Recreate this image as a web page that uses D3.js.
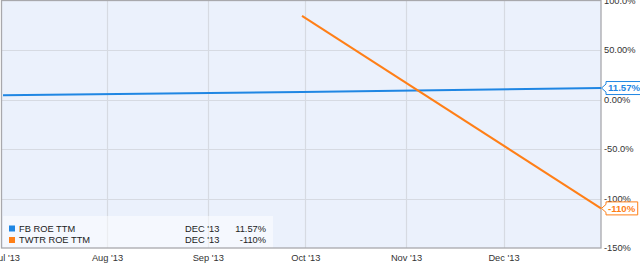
<!DOCTYPE html>
<html><head><meta charset="utf-8">
<script src="https://cdn.jsdelivr.net/npm/d3@7"></script>
<style>
html,body{margin:0;padding:0;background:#fff;}
svg{display:block;font-family:"Liberation Sans",Arial,sans-serif;}
</style></head>
<body><svg id="c" width="640" height="266"></svg>
<script>
// ---- data ----
const seriesNames = ["FB ROE TTM", "TWTR ROE TTM"];
const seriesColors = ["#1f86e3", "#ff7f17"];
const fbDates = ["2013-06-30", "2013-09-30", "2013-12-31"];
const fbValues = [4.2, 7.7, 11.57];
const twtrDates = ["2013-09-30", "2013-12-31"];
const twtrValues = [84.5, -110];
const lastLabels = ["11.57%", "-110%"];
const legendPeriods = ["DEC '13", "DEC '13"];
const yTicks = [100, 50, 0, -50, -100, -150];
const yTickLabels = ["100.0%", "50.00%", "0.00%", "-50.0%", "-100%", "-150%"];
const xTickDates = ["2013-07-01", "2013-08-01", "2013-09-01", "2013-10-01", "2013-11-01", "2013-12-01"];

// ---- layout ----
const svg = d3.select("#c");
const L = 2, R = 601, T = 0, B = 248;
const pd = d3.utcParse("%Y-%m-%d");
const x = d3.scaleUtc().domain([pd("2013-06-30"), pd("2013-12-31")]).range([3, R]);
const y = d3.scaleLinear().domain([100, -150]).range([0.5, B]);
const FS = 9.3;

svg.append("rect").attr("x", L).attr("y", T).attr("width", R - L).attr("height", B - T).attr("fill", "#ebf1fc");

// gridlines
const gx = svg.append("g");
gx.selectAll("line.v").data(xTickDates.map(pd).slice(1)).join("line")
  .attr("x1", d => Math.round(x(d)) + 0.5).attr("x2", d => Math.round(x(d)) + 0.5)
  .attr("y1", T).attr("y2", B).attr("stroke", "#d6dae2").attr("stroke-width", 1.2);
gx.selectAll("line.h").data(yTicks.slice(1, -1)).join("line")
  .attr("x1", L).attr("x2", R).attr("y1", d => Math.round(y(d)) + 0.5).attr("y2", d => Math.round(y(d)) + 0.5)
  .attr("stroke", "#d6dae2").attr("stroke-width", 1.2);

// legend background
svg.append("rect").attr("x", 3).attr("y", 216).attr("width", 270).attr("height", B - 216)
  .attr("fill", "#ffffff").attr("fill-opacity", 0.5);

// border
svg.append("rect").attr("x", L - 0.5).attr("y", T + 0.5).attr("width", R - L + 0.5).attr("height", B - T - 0.5)
  .attr("fill", "none").attr("stroke", "#a8a8ac").attr("stroke-width", 1.3);

// lines
const line = d3.line().x(d => x(d[0])).y(d => y(d[1]));
const series = [
  fbDates.map((d, i) => [pd(d), fbValues[i]]),
  twtrDates.map((d, i) => [pd(d), twtrValues[i]])
];
series.forEach((s, i) => {
  svg.append("path").datum(s).attr("d", line).attr("fill", "none")
    .attr("stroke", seriesColors[i]).attr("stroke-width", 2);
});

// y axis (right)
const yAxis = d3.axisRight(y).tickValues(yTicks).tickSize(0).tickPadding(3)
  .tickFormat((d, i) => yTickLabels[i]);
const ya = svg.append("g").attr("transform", `translate(${R},0)`).call(yAxis);
ya.select(".domain").remove();
ya.selectAll("text").attr("font-size", FS).attr("fill", "#333").attr("font-family", "Liberation Sans, Arial, sans-serif");

// x axis
const xAxis = d3.axisBottom(x).tickValues(xTickDates.map(pd)).tickSize(0).tickPadding(6)
  .tickFormat(d3.utcFormat("%b '%y"));
const xa = svg.append("g").attr("transform", `translate(0,${B})`).call(xAxis);
xa.select(".domain").remove();
xa.selectAll("text").attr("font-size", FS).attr("fill", "#333").attr("font-family", "Liberation Sans, Arial, sans-serif");

// last value labels
series.forEach((s, i) => {
  const last = s[s.length - 1];
  const tx = x(last[0]), ty = y(last[1]);
  const g = svg.append("g");
  const path = g.append("path");
  const t = g.append("text").attr("x", tx + 7).attr("y", ty).attr("dy", "0.34em")
    .attr("font-size", 9.6).attr("font-weight", "bold").attr("fill", seriesColors[i]).text(lastLabels[i]);
  const w = t.node().getComputedTextLength();
  const x0 = tx + 0.5, x1 = tx + 5, x2 = tx + 7 + w + 2.5, h = 6.5;
  path.attr("d", `M${x0},${ty} L${x1},${ty - 4} L${x1},${ty - h} L${x2},${ty - h} L${x2},${ty + h} L${x1},${ty + h} L${x1},${ty + 4} Z`)
    .attr("fill", "#fff").attr("stroke", seriesColors[i]).attr("stroke-width", 1);
});

// legend
const lg = svg.append("g");
seriesNames.forEach((n, i) => {
  const cy = 228.5 + i * 11.5;
  lg.append("rect").attr("x", 9).attr("y", cy - 3).attr("width", 6).attr("height", 6).attr("fill", seriesColors[i]);
  lg.append("text").attr("x", 19).attr("y", cy).attr("dy", "0.35em").attr("font-size", FS).attr("fill", "#222").text(n);
  lg.append("text").attr("x", 185).attr("y", cy).attr("dy", "0.35em").attr("font-size", FS).attr("fill", "#222").text(legendPeriods[i]);
  lg.append("text").attr("x", 266).attr("y", cy).attr("dy", "0.35em").attr("font-size", FS).attr("fill", "#222")
    .attr("text-anchor", "end").text(lastLabels[i]);
});
</script></body></html>
